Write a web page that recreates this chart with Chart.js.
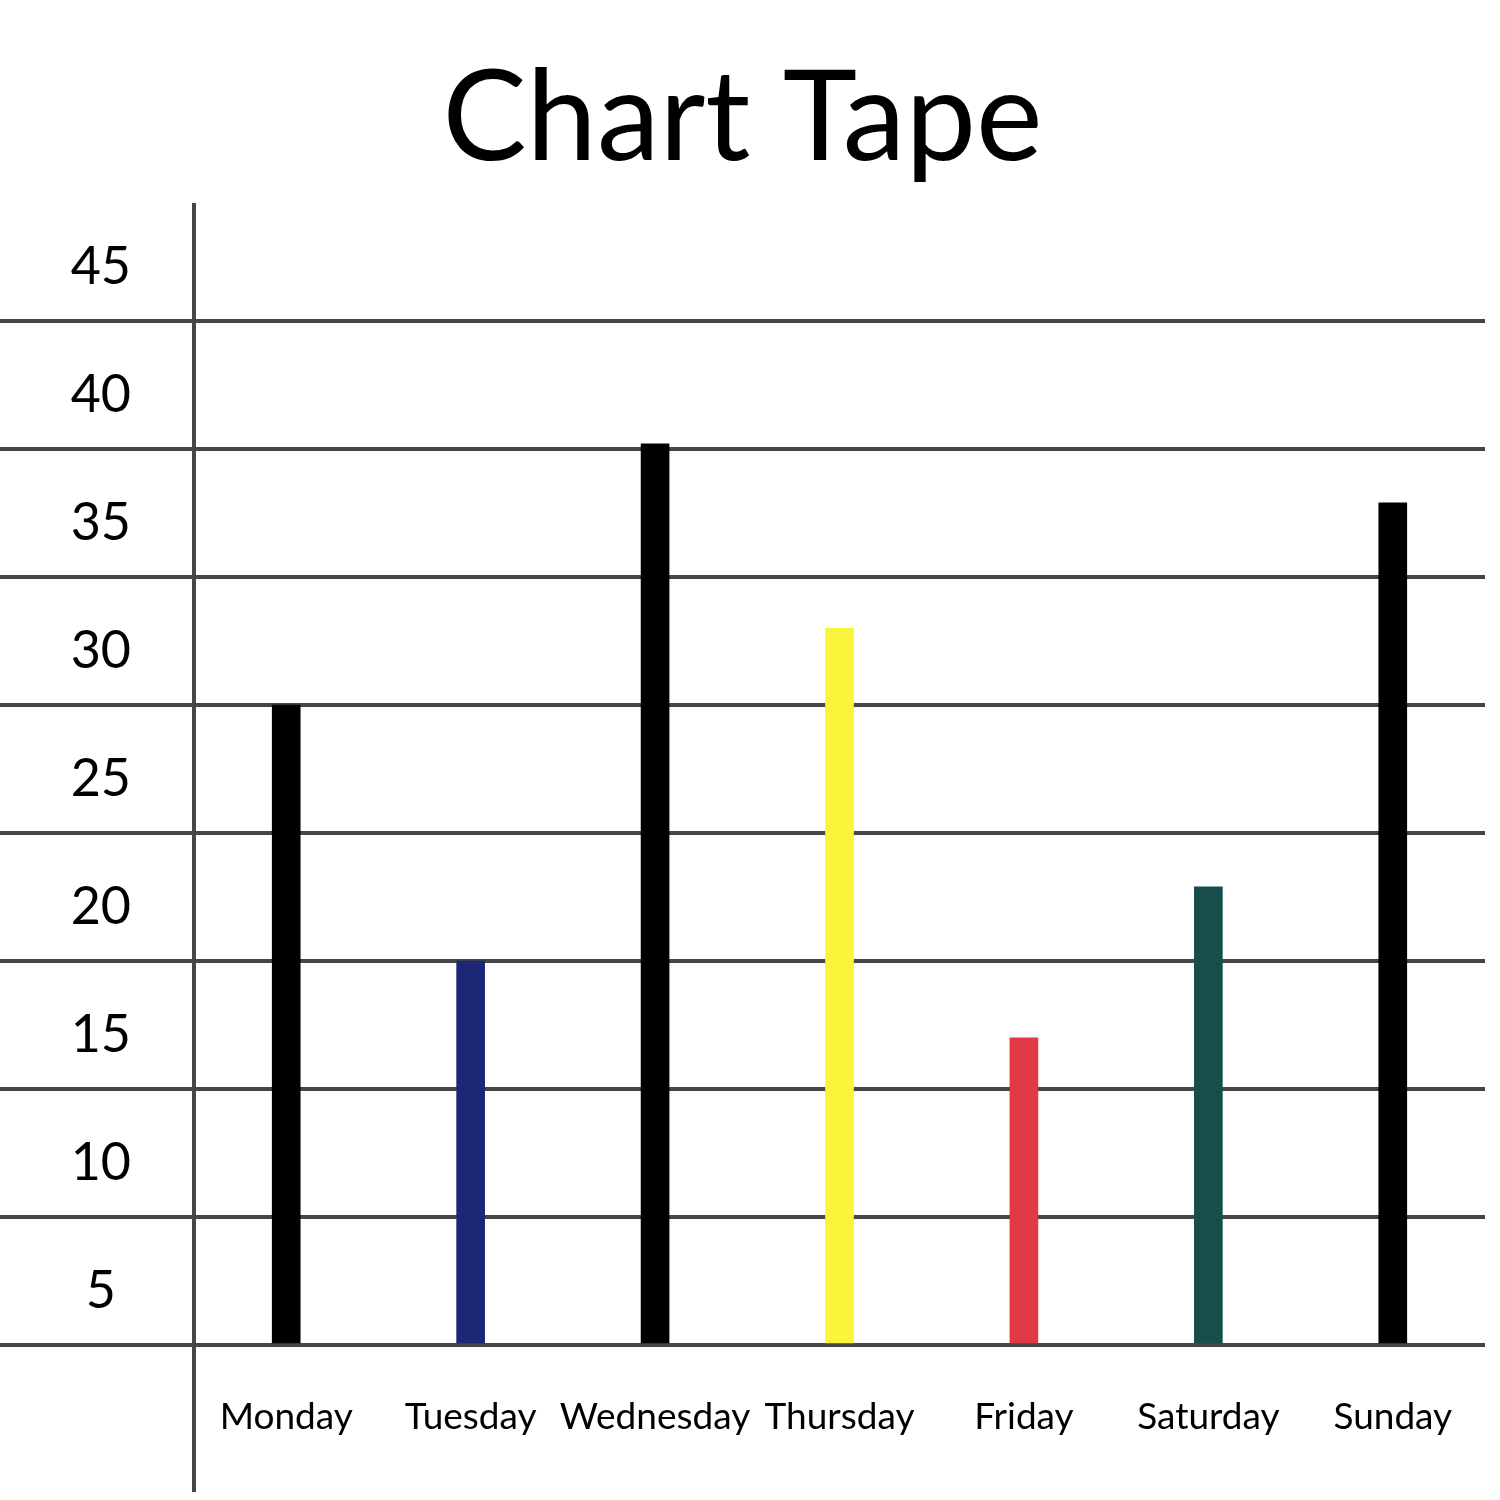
<!DOCTYPE html>
<html>
<head>
<meta charset="utf-8">
<script src="https://cdn.jsdelivr.net/npm/chart.js@4.4.1/dist/chart.umd.min.js"></script>
<style>
  html, body { margin: 0; padding: 0; background: #ffffff; }
  #wrap { width: 1500px; height: 1500px; }
</style>
</head>
<body>
<div id="wrap"><canvas id="c" width="1500" height="1500"></canvas></div>
<script>
// ---- data ----
const categories = ['Monday', 'Tuesday', 'Wednesday', 'Thursday', 'Friday', 'Saturday', 'Sunday'];
const values = [25, 15, 35.2, 28, 12, 17.9, 32.9];
const barColors = ['#000000', '#1b2775', '#000000', '#f8f53b', '#e03a46', '#174e4b', '#000000'];
const gridValues = [0, 5, 10, 15, 20, 25, 30, 35, 40];
const tickLabels = ['5', '10', '15', '20', '25', '30', '35', '40', '45'];
const titleText = 'Chart Tape';

const LINE = '#464646';
const FONT = 'Lato, "Open Sans", sans-serif';
const LABEL_SHIFT = -0.4; // label sits a little below the band middle

// label positions: middle of each band
const labelMap = {};
gridValues.forEach((g, i) => { labelMap[(g + 2.5 + LABEL_SHIFT).toFixed(3)] = tickLabels[i]; });

new Chart(document.getElementById('c'), {
  type: 'bar',
  data: {
    labels: categories,
    datasets: [{
      data: values,
      backgroundColor: barColors,
      borderWidth: 0,
      barThickness: 28
    }]
  },
  options: {
    responsive: false,
    devicePixelRatio: 1,
    animation: false,
    layout: { padding: { left: 0, right: 15, top: 0, bottom: 0 } },
    plugins: {
      legend: { display: false },
      tooltip: { enabled: false },
      title: {
        display: true,
        text: titleText,
        color: '#000000',
        font: { family: FONT, size: 126, weight: 'normal', lineHeight: 1 },
        padding: { top: 56, bottom: 21 }
      }
    },
    scales: {
      x: {
        grid: {
          offset: true,
          color: ctx => (ctx.type === 'tick' && ctx.index === 0) ? LINE : 'rgba(0,0,0,0)',
          lineWidth: 4,
          drawTicks: true,
          tickLength: 147
        },
        border: { display: false },
        ticks: {
          color: '#000000',
          font: { family: FONT, size: 37 },
          padding: -97,
          maxRotation: 0,
          autoSkip: false
        },
        afterFit: s => { s.height = 155; }
      },
      y: {
        min: 0,
        max: 44.61,
        afterBuildTicks: s => {
          const t = [];
          gridValues.forEach(g => { t.push({ value: g }); t.push({ value: g + 2.5 + LABEL_SHIFT }); });
          s.ticks = t;
        },
        grid: {
          color: ctx => (ctx.tick && gridValues.includes(ctx.tick.value)) ? LINE : 'rgba(0,0,0,0)',
          lineWidth: 4,
          drawTicks: true,
          tickLength: 194
        },
        border: { display: false },
        ticks: {
          autoSkip: false,
          color: '#000000',
          font: { family: FONT, size: 52 },
          crossAlign: 'center',
          padding: -131,
          callback: (v) => labelMap[Number(v).toFixed(3)] || ''
        },
        afterFit: s => { s.width = 194; }
      }
    }
  }
});
</script>
</body>
</html>
